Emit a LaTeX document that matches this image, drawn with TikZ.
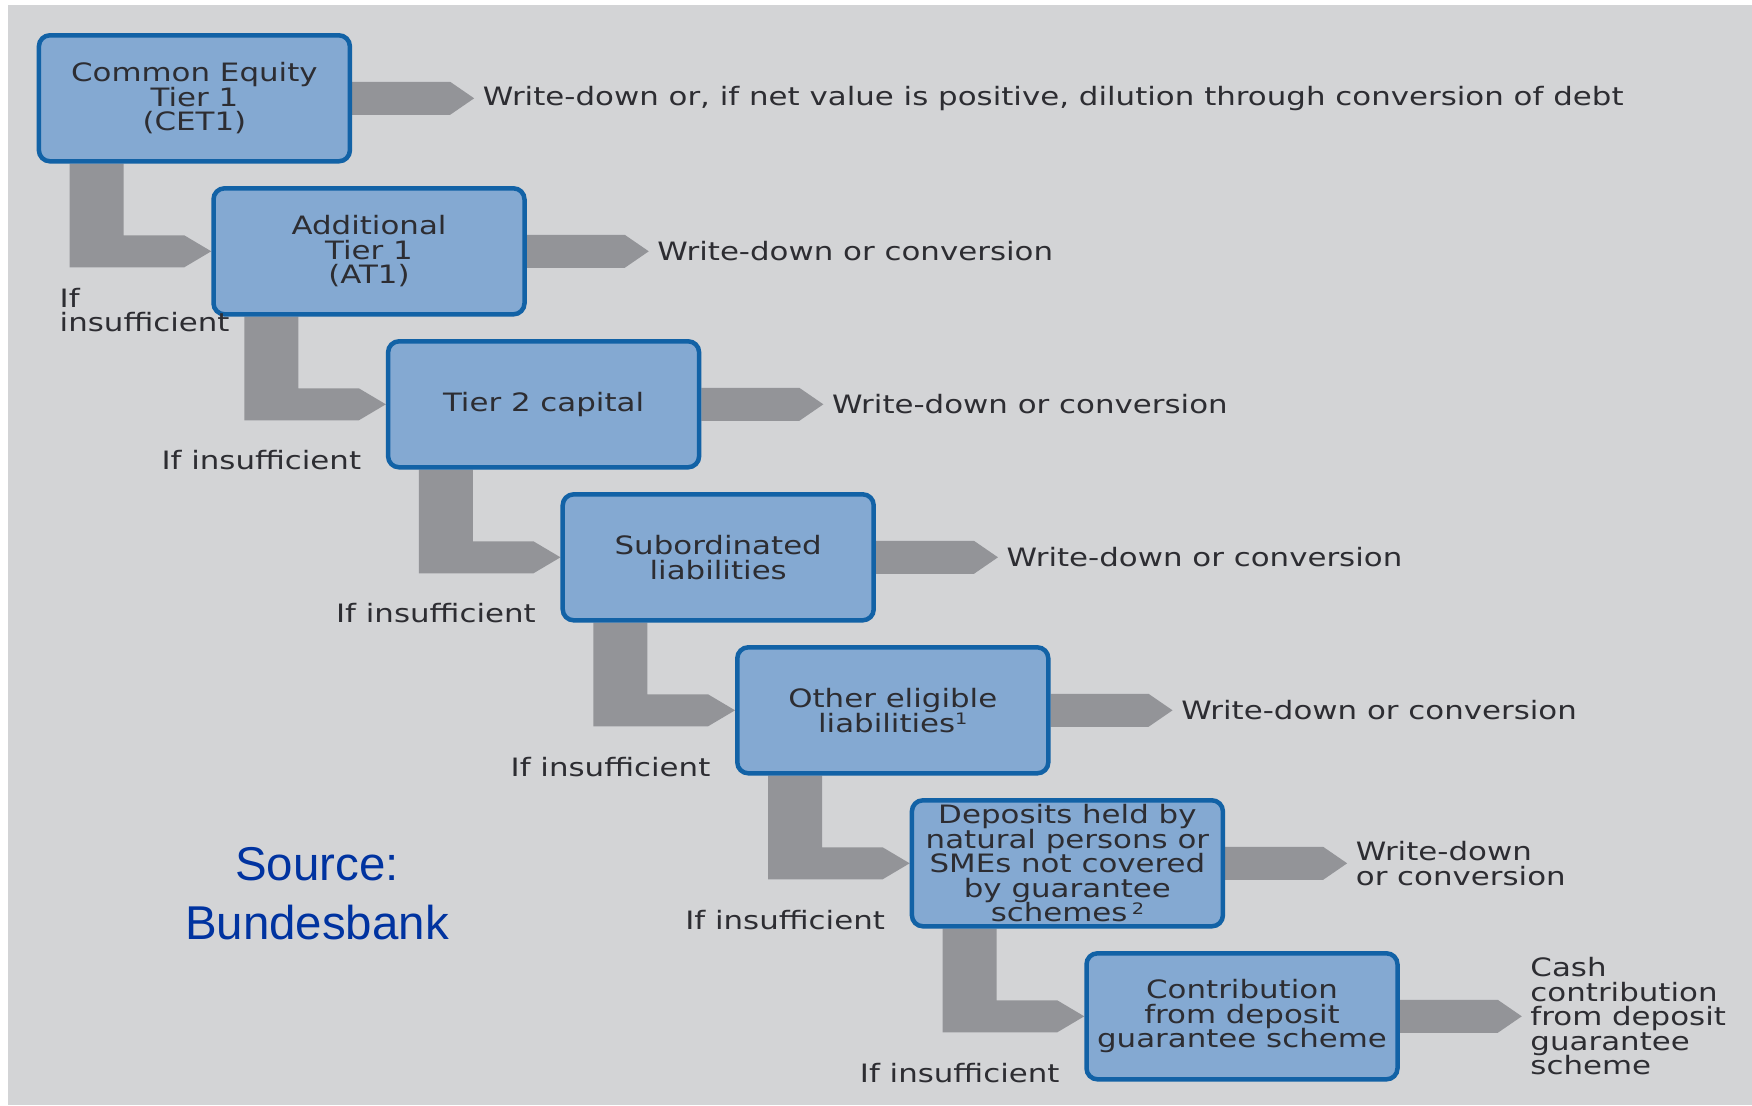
\documentclass[tikz,border=0pt]{standalone}
\usepackage{fontspec}
\setmainfont[FakeStretch=1.22]{DejaVu Sans}
\newfontfamily\srcfont{Liberation Sans}
\usetikzlibrary{backgrounds}
\definecolor{paper}{RGB}{211,212,214}
\definecolor{boxfill}{RGB}{132,169,210}
\definecolor{boxline}{RGB}{18,98,166}
\definecolor{bargray}{RGB}{147,148,152}
\definecolor{srcblue}{RGB}{0,51,160}
\definecolor{ink}{RGB}{45,45,50}
\newcommand{\fnmark}[1]{\raisebox{0.28em}{\fontsize{4.5}{5}\selectfont #1}}

\begin{document}
\begin{tikzpicture}
	\tikzstyle{box} = [draw=boxline, fill=boxfill, line width=0.045cm, rounded corners=0.11cm,
			minimum width=3.11cm, minimum height=1.26cm, inner sep=0, align=center, text=ink,
			font=\fontsize{7.2}{7}\selectfont]
	\tikzstyle{lbl} = [inner sep=0, anchor=west, align=left, text=ink, font=\fontsize{7.2}{7}\selectfont]
	\tikzstyle{note} = [inner sep=0, text=ink, font=\fontsize{7.2}{7}\selectfont]
	\tikzstyle{bar} = [fill=bargray]

	\useasboundingbox (0,0) rectangle (17.52,-11.05);

	% the cascade
	\node [box] (v1) at (1.944,-0.983) {Common Equity\\Tier 1\\(CET1)};
	\node [box] (v2) at (3.690,-2.513) {Additional\\Tier 1\\(AT1)};
	\node [box] (v3) at (5.436,-4.043) {Tier 2 capital};
	\node [box] (v4) at (7.182,-5.573) {Subordinated\\liabilities};
	\node [box] (v5) at (8.928,-7.103) {Other eligible\\liabilities\fnmark{1}};
	\node [box] (v6) at (10.674,-8.633) {Deposits held by\\natural persons or\\SMEs not covered\\by guarantee\\schemes\,\fnmark{2}};
	\node [box] (v7) at (12.420,-10.163) {Contribution\\from deposit\\guarantee scheme};

	\node [lbl] (w1) at ([xshift=1.3cm]v1.east) {Write-down or, if net value is positive, dilution through conversion of debt};
	\node [lbl] (w2) at ([xshift=1.3cm]v2.east) {Write-down or conversion};
	\node [lbl] (w3) at ([xshift=1.3cm]v3.east) {Write-down or conversion};
	\node [lbl] (w4) at ([xshift=1.3cm]v4.east) {Write-down or conversion};
	\node [lbl] (w5) at ([xshift=1.3cm]v5.east) {Write-down or conversion};
	\node [lbl] (w6) at ([xshift=1.3cm]v6.east) {Write-down\\or conversion};
	\node [lbl] (w7) at ([xshift=1.3cm]v7.east) {Cash\\contribution\\from deposit\\guarantee\\scheme};

	\node [note, anchor=west, align=left] (n1) at (0.59,-3.10) {If\\insufficient};
	\node [note, anchor=east] (n2) at ([xshift=-0.24cm,yshift=0.09cm]v3.south west) {If insufficient};
	\node [note, anchor=east] (n3) at ([xshift=-0.24cm,yshift=0.09cm]v4.south west) {If insufficient};
	\node [note, anchor=east] (n4) at ([xshift=-0.24cm,yshift=0.09cm]v5.south west) {If insufficient};
	\node [note, anchor=east] (n5) at ([xshift=-0.24cm,yshift=0.09cm]v6.south west) {If insufficient};
	\node [note, anchor=east] (n6) at ([xshift=-0.24cm,yshift=0.09cm]v7.south west) {If insufficient};

	\node [align=center, text=srcblue, font=\srcfont\fontsize{13.5}{16.8}\selectfont] (src) at (3.17,-8.935) {Source:\\Bundesbank};

	\begin{scope}[on background layer]
	\fill [paper] (0.08,-0.05) rectangle (17.52,-11.05);
	% write-down arrows
	\foreach \i in {1,...,7} {
		\fill [bar] ([yshift=0.165cm]v\i.east) -- ([xshift=-0.32cm,yshift=0.165cm]w\i.west)
			-- ([xshift=-0.08cm]w\i.west) -- ([xshift=-0.32cm,yshift=-0.165cm]w\i.west)
			-- ([yshift=-0.165cm]v\i.east) -- cycle;
	}
	% if insufficient, next in line
	\foreach \i/\j in {1/2,2/3,3/4,4/5,5/6,6/7} {
		\fill [bar] ([xshift=0.33cm]v\i.south west) -- ([xshift=0.87cm]v\i.south west)
			-- ([xshift=0.87cm,yshift=0.16cm]v\i.south west |- v\j.west)
			-- ([xshift=-0.27cm,yshift=0.16cm]v\j.west) -- (v\j.west)
			-- ([xshift=-0.27cm,yshift=-0.16cm]v\j.west)
			-- ([xshift=0.33cm,yshift=-0.16cm]v\i.south west |- v\j.west) -- cycle;
	}
	\end{scope}
\end{tikzpicture}
\end{document}
